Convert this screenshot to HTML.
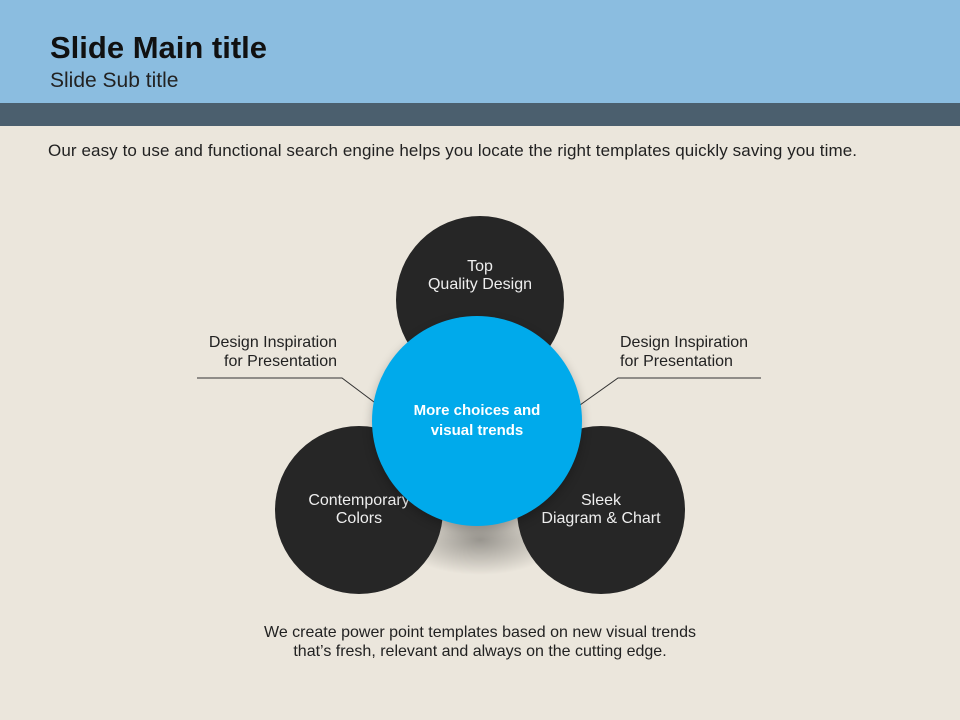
<!DOCTYPE html>
<html><head><style>
body{margin:0;width:960px;height:720px;background:#ebe6dc;font-family:"Liberation Sans",sans-serif;position:relative;overflow:hidden}
.hdr{position:absolute;left:0;top:0;width:960px;height:103px;background:#8bbde0}
.bar{position:absolute;left:0;top:103px;width:960px;height:23px;background:#4b5f6e}
.t{position:absolute;white-space:nowrap;color:#222}
.c{position:absolute;border-radius:50%;background:#262626;color:#eee;font-size:16px;text-align:center;display:flex;align-items:center;justify-content:center;line-height:18px}
</style></head><body>
<div class="hdr"></div><div class="bar"></div>
<div class="t" style="left:50px;top:30px;font-size:31px;font-weight:bold;color:#111">Slide Main title</div>
<div class="t" style="left:50px;top:69px;font-size:21px;color:#222">Slide Sub title</div>
<div class="t" style="left:48px;top:141px;font-size:17px;color:#222;letter-spacing:0.1px">Our easy to use and functional search engine helps you locate the right templates quickly saving you time.</div>
<svg style="position:absolute;left:0;top:0" width="960" height="720">
<defs><radialGradient id="sh"><stop offset="0" stop-color="#000" stop-opacity="0.35"/><stop offset="1" stop-color="#000" stop-opacity="0"/></radialGradient></defs>
<ellipse cx="480" cy="540" rx="80" ry="35" fill="url(#sh)"/>
<polyline points="197,378 342,378 378,405" fill="none" stroke="#333" stroke-width="1"/>
<polyline points="761,378 618,378 580,405" fill="none" stroke="#333" stroke-width="1"/>
</svg>
<div class="c" style="left:396px;top:216px;width:168px;height:168px;align-items:flex-start"><div style="margin-top:42px">Top<br>Quality Design</div></div>
<div class="c" style="left:275px;top:426px;width:168px;height:168px">Contemporary<br>Colors</div>
<div class="c" style="left:517px;top:426px;width:168px;height:168px">Sleek<br>Diagram &amp; Chart</div>
<div class="c" style="left:372px;top:316px;width:210px;height:210px;background:#00aaeb;color:#fff;font-weight:bold;font-size:15px;line-height:20px;box-shadow:0 4px 10px rgba(0,0,0,.25)">More choices and<br>visual trends</div>
<div class="t" style="left:176px;top:333px;font-size:16px;text-align:right;width:161px;line-height:19px">Design Inspiration<br>for Presentation</div>
<div class="t" style="left:620px;top:333px;font-size:16px;line-height:19px">Design Inspiration<br>for Presentation</div>
<div class="t" style="left:200px;top:623px;width:560px;text-align:center;font-size:16px;line-height:19px">We create power point templates based on new visual trends<br>that’s fresh, relevant and always on the cutting edge.</div>
</body></html>
